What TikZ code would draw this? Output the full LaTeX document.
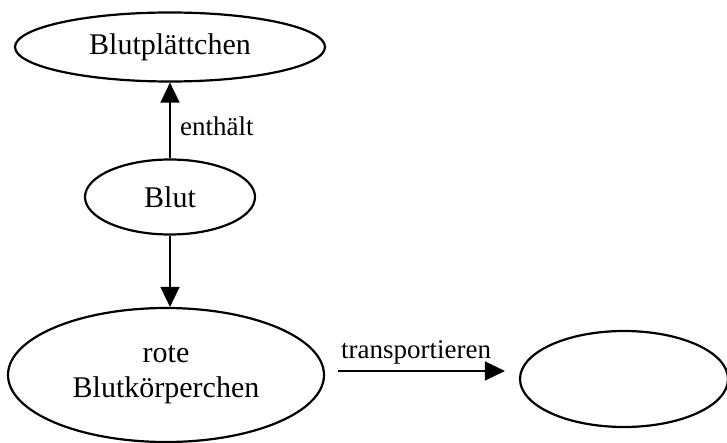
\documentclass[tikz,border=0pt]{standalone}
\usepackage{fontspec}
\setmainfont{Liberation Serif}
\usetikzlibrary{shapes.geometric, arrows.meta}

\begin{document}
\begin{tikzpicture}[x=1pt, y=-1pt,
        begriff/.style={ellipse, draw, line width=2.2pt, inner sep=0pt, align=center,
            font=\fontsize{30}{35}\selectfont},
        pfeil/.style={line width=1.6pt, -{Triangle[length=20pt,width=19pt]}},
        beschr/.style={font=\fontsize{27}{31}\selectfont}]
        \useasboundingbox (0,0) rectangle (727,443);

        % Begriffe
        \node[begriff, minimum width=310pt, minimum height=69pt] (platt) at (170,47) {Blutplättchen};
        \node[begriff, minimum width=170pt, minimum height=75pt] (blut) at (170,197) {Blut};
        \node[begriff, minimum width=316pt, minimum height=134pt] (rote) at (166,375) {rote\\Blutkörperchen};
        \node[begriff, minimum width=208pt, minimum height=96pt] (leer) at (624,379) {};

        % Beziehungen
        \draw[pfeil] (blut) -- node[beschr, right=6pt, pos=0.42] (enth) {enthält} (platt);
        \draw[pfeil] (blut.south) -- (blut.south |- rote.north);

        \coordinate (tp) at ([yshift=4pt]rote.east);
        \draw[pfeil, shorten <=13pt, shorten >=14pt] (tp) -- node[beschr, above=4pt, pos=0.47, inner sep=2pt] (trans) {transportieren} (tp -| leer.west);
    \end{tikzpicture}
\end{document}
